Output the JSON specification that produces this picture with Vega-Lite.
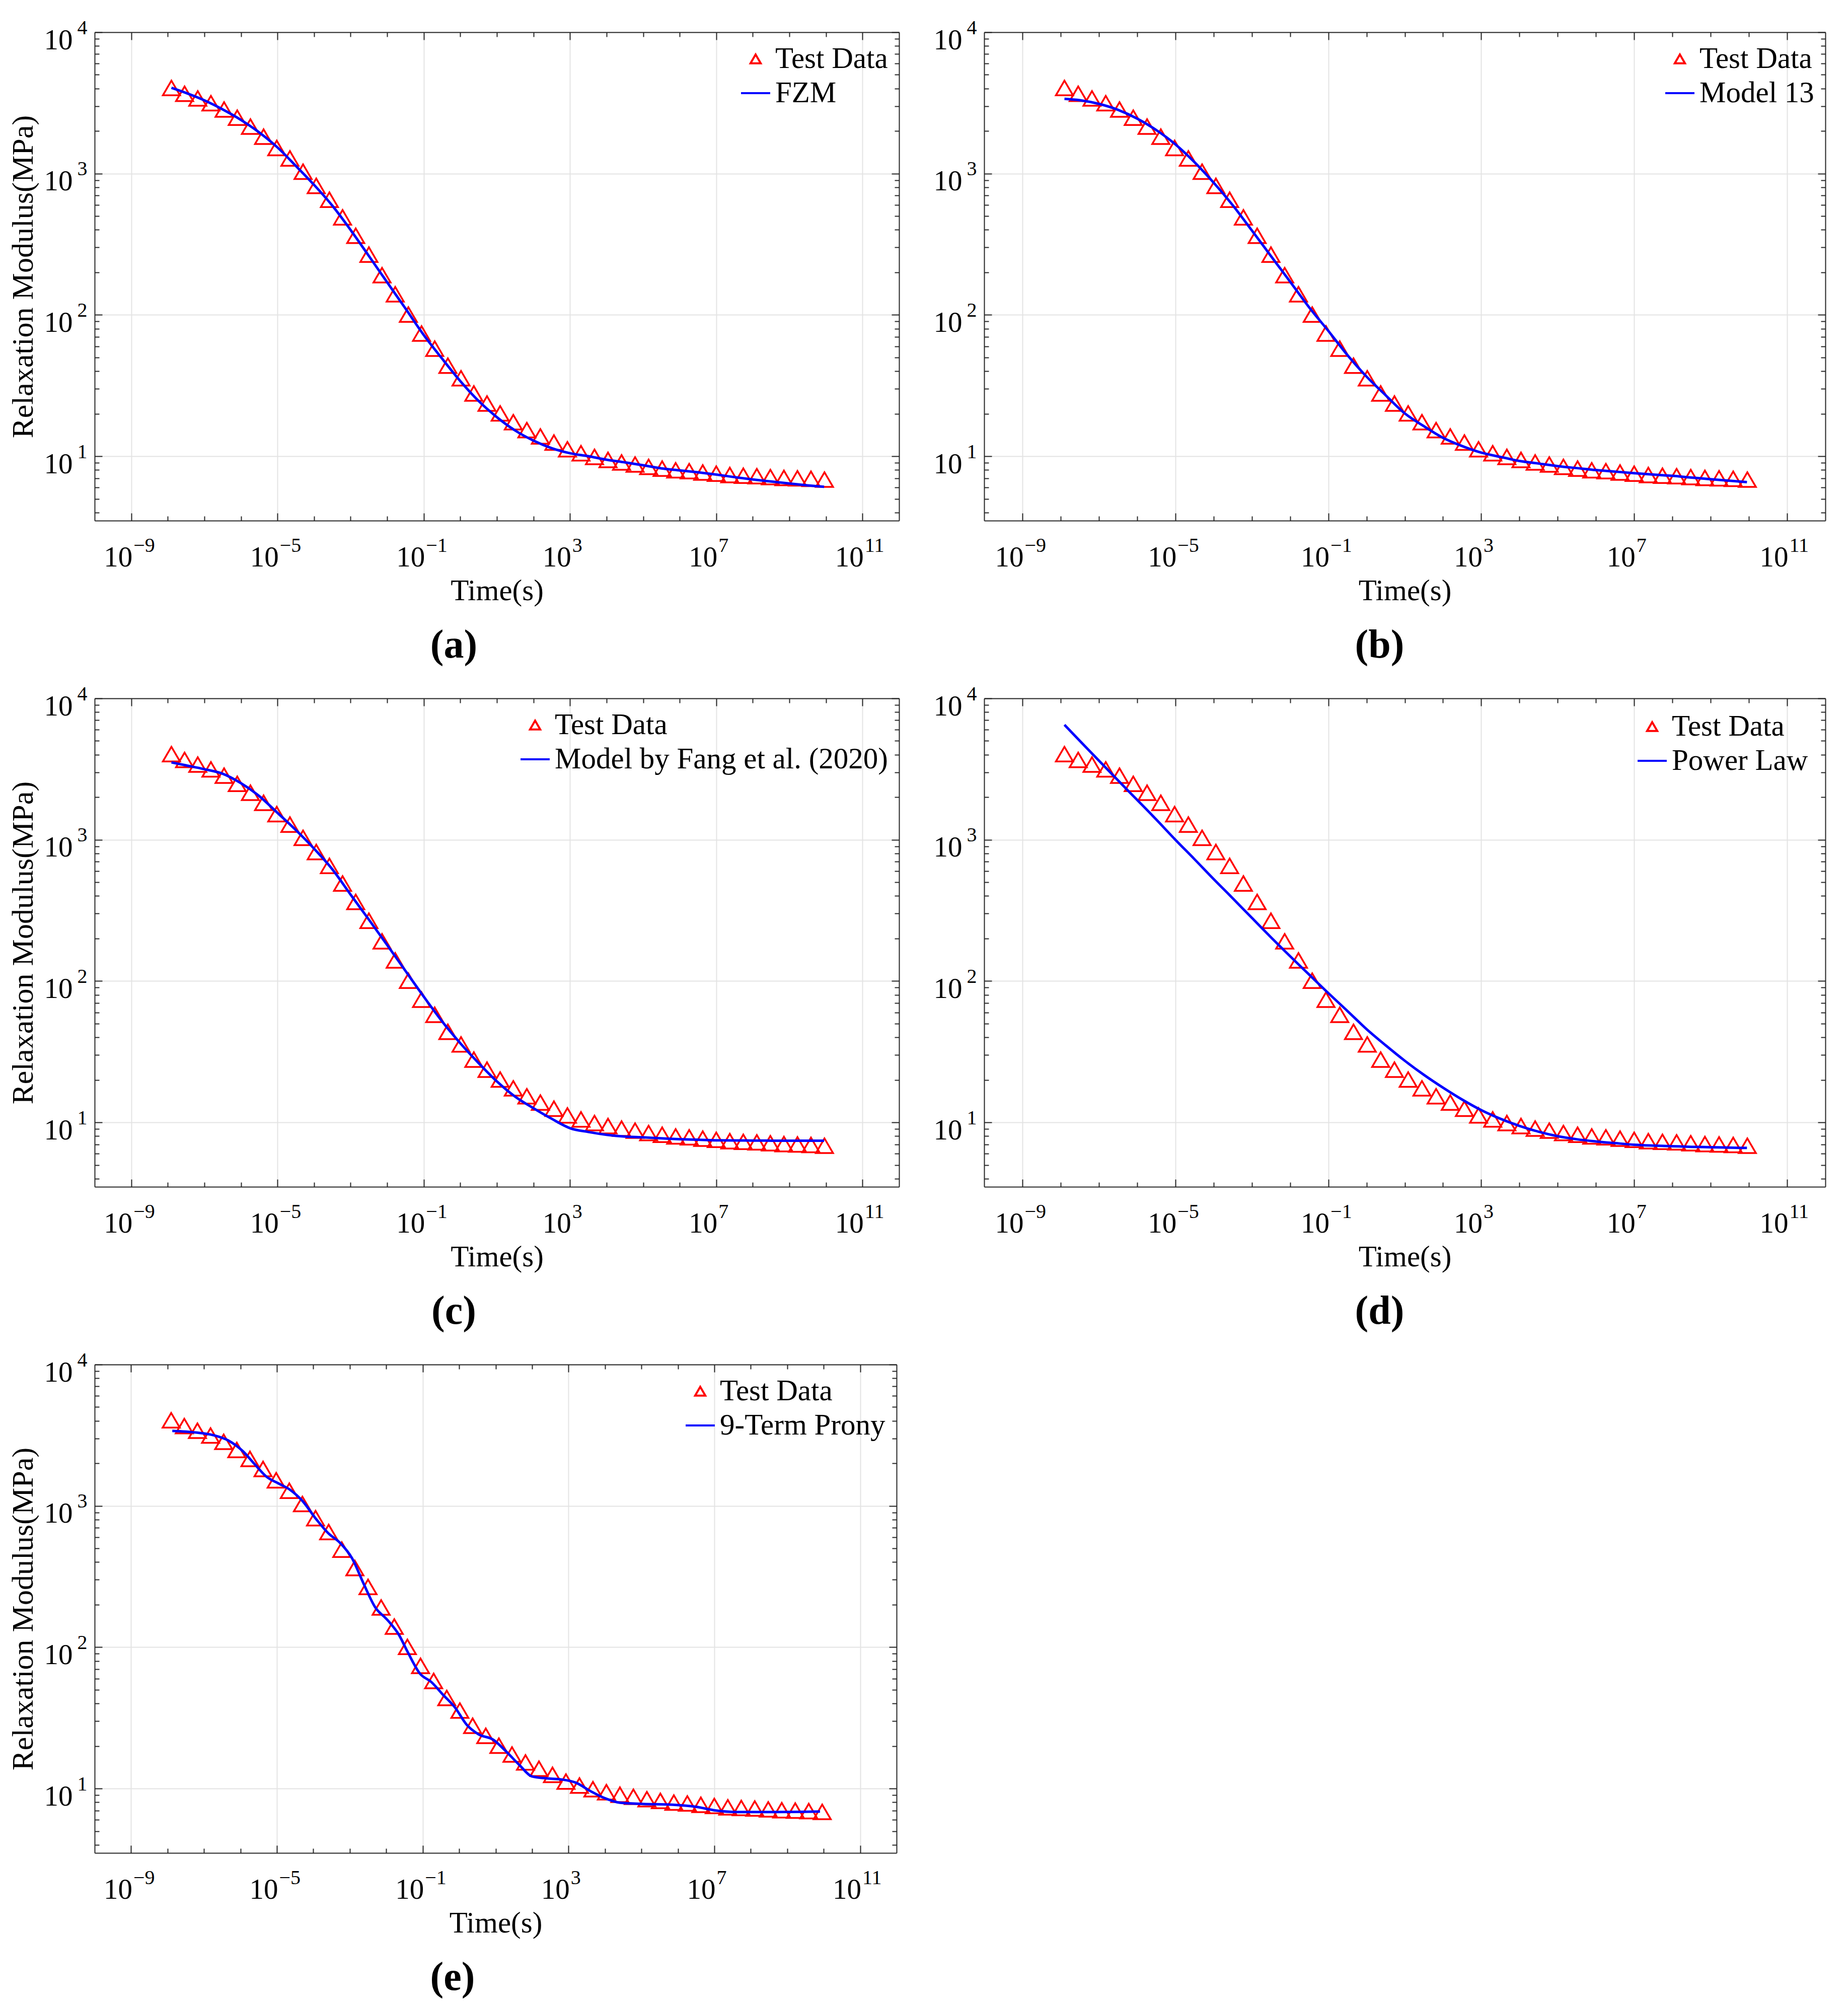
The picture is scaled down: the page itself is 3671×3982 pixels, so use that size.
{
  "$schema": "https://vega.github.io/schema/vega-lite/v6.json",
  "background": "white",
  "padding": {"left": 16, "top": 35, "right": 10, "bottom": 10},
  "datasets": {
    "test": [
      {"t": 1.259e-8, "G": 4030}, {"t": 2.884e-8, "G": 3670}, {"t": 6.607e-8, "G": 3400}, {"t": 1.514e-7, "G": 3145},
      {"t": 3.467e-7, "G": 2840}, {"t": 7.943e-7, "G": 2485}, {"t": 1.82e-6, "G": 2150}, {"t": 4.169e-6, "G": 1825},
      {"t": 9.55e-6, "G": 1517}, {"t": 2.188e-5, "G": 1280}, {"t": 5.012e-5, "G": 1031}, {"t": 1.148e-4, "G": 818},
      {"t": 2.63e-4, "G": 653}, {"t": 6.026e-4, "G": 490}, {"t": 1.38e-3, "G": 363}, {"t": 3.162e-3, "G": 267},
      {"t": 7.244e-3, "G": 191}, {"t": 0.0166, "G": 140}, {"t": 0.03802, "G": 100.5}, {"t": 0.0871, "G": 73.8},
      {"t": 0.1995, "G": 57.7}, {"t": 0.4571, "G": 43.7}, {"t": 1.047, "G": 35.6}, {"t": 2.344, "G": 27.8},
      {"t": 5.37, "G": 23.6}, {"t": 12.3, "G": 20.1}, {"t": 28.18, "G": 17.4}, {"t": 66.07, "G": 15.3},
      {"t": 154.9, "G": 13.8}, {"t": 363.1, "G": 12.5}, {"t": 851.1, "G": 11.2}, {"t": 1995, "G": 10.5},
      {"t": 4677, "G": 9.89}, {"t": 10965, "G": 9.42}, {"t": 25700, "G": 9.04}, {"t": 60260, "G": 8.74},
      {"t": 141250, "G": 8.4}, {"t": 331100, "G": 8.17}, {"t": 776200, "G": 7.95}, {"t": 1820000, "G": 7.84},
      {"t": 4266000, "G": 7.67}, {"t": 10000000, "G": 7.52}, {"t": 23440000, "G": 7.36}, {"t": 54950000, "G": 7.28},
      {"t": 128800000, "G": 7.22}, {"t": 302000000, "G": 7.12}, {"t": 707900000, "G": 7.02}, {"t": 1660000000, "G": 6.98},
      {"t": 3890000000, "G": 6.92}, {"t": 9120000000, "G": 6.83}
    ],
    "models": [
      {"m": "FZM", "t": 1.259e-8, "G": 4040}, {"m": "FZM", "t": 3.162e-8, "G": 3715}, {"m": "FZM", "t": 1e-7, "G": 3296},
      {"m": "FZM", "t": 3.162e-7, "G": 2845}, {"m": "FZM", "t": 1e-6, "G": 2399}, {"m": "FZM", "t": 3.162e-6, "G": 1955},
      {"m": "FZM", "t": 1e-5, "G": 1531}, {"m": "FZM", "t": 3.162e-5, "G": 1135}, {"m": "FZM", "t": 1e-4, "G": 832},
      {"m": "FZM", "t": 3.162e-4, "G": 593}, {"m": "FZM", "t": 1e-3, "G": 399}, {"m": "FZM", "t": 3.162e-3, "G": 261},
      {"m": "FZM", "t": 0.01, "G": 170}, {"m": "FZM", "t": 0.03162, "G": 111}, {"m": "FZM", "t": 0.1, "G": 72.1},
      {"m": "FZM", "t": 0.3162, "G": 49.1}, {"m": "FZM", "t": 1, "G": 34.0}, {"m": "FZM", "t": 3.162, "G": 24.6},
      {"m": "FZM", "t": 10, "G": 18.9}, {"m": "FZM", "t": 31.62, "G": 15.2}, {"m": "FZM", "t": 100, "G": 12.9},
      {"m": "FZM", "t": 316.2, "G": 11.4}, {"m": "FZM", "t": 1000, "G": 10.5}, {"m": "FZM", "t": 3162, "G": 10.0},
      {"m": "FZM", "t": 10000, "G": 9.44}, {"m": "FZM", "t": 31620, "G": 9.04}, {"m": "FZM", "t": 100000, "G": 8.63},
      {"m": "FZM", "t": 316200, "G": 8.2}, {"m": "FZM", "t": 1000000, "G": 7.94}, {"m": "FZM", "t": 3162000, "G": 7.69},
      {"m": "FZM", "t": 10000000, "G": 7.41}, {"m": "FZM", "t": 31620000, "G": 7.11}, {"m": "FZM", "t": 100000000, "G": 6.85},
      {"m": "FZM", "t": 316200000, "G": 6.62}, {"m": "FZM", "t": 1000000000, "G": 6.41}, {"m": "FZM", "t": 3162000000, "G": 6.22},
      {"m": "FZM", "t": 8913000000, "G": 6.07},

      {"m": "Model 13", "t": 1.259e-8, "G": 3381}, {"m": "Model 13", "t": 3.162e-8, "G": 3304}, {"m": "Model 13", "t": 1e-7, "G": 3112},
      {"m": "Model 13", "t": 3.162e-7, "G": 2825}, {"m": "Model 13", "t": 1e-6, "G": 2449}, {"m": "Model 13", "t": 3.162e-6, "G": 2032},
      {"m": "Model 13", "t": 1e-5, "G": 1611}, {"m": "Model 13", "t": 3.162e-5, "G": 1205}, {"m": "Model 13", "t": 1e-4, "G": 863},
      {"m": "Model 13", "t": 3.162e-4, "G": 597}, {"m": "Model 13", "t": 1e-3, "G": 396}, {"m": "Model 13", "t": 3.162e-3, "G": 261},
      {"m": "Model 13", "t": 0.01, "G": 172}, {"m": "Model 13", "t": 0.03162, "G": 113}, {"m": "Model 13", "t": 0.1, "G": 77.1},
      {"m": "Model 13", "t": 0.3162, "G": 52.0}, {"m": "Model 13", "t": 1, "G": 36.6}, {"m": "Model 13", "t": 3.162, "G": 27.0},
      {"m": "Model 13", "t": 10, "G": 20.1}, {"m": "Model 13", "t": 31.62, "G": 16.3}, {"m": "Model 13", "t": 100, "G": 13.5},
      {"m": "Model 13", "t": 316.2, "G": 11.8}, {"m": "Model 13", "t": 1000, "G": 10.6}, {"m": "Model 13", "t": 3162, "G": 9.89},
      {"m": "Model 13", "t": 10000, "G": 9.25}, {"m": "Model 13", "t": 31620, "G": 8.87}, {"m": "Model 13", "t": 100000, "G": 8.51},
      {"m": "Model 13", "t": 316200, "G": 8.24}, {"m": "Model 13", "t": 1000000, "G": 7.98}, {"m": "Model 13", "t": 3162000, "G": 7.78},
      {"m": "Model 13", "t": 10000000, "G": 7.59}, {"m": "Model 13", "t": 31620000, "G": 7.41}, {"m": "Model 13", "t": 100000000, "G": 7.26},
      {"m": "Model 13", "t": 316200000, "G": 7.06}, {"m": "Model 13", "t": 1000000000, "G": 6.87}, {"m": "Model 13", "t": 3162000000, "G": 6.7},
      {"m": "Model 13", "t": 8913000000, "G": 6.56},

      {"m": "Fang", "t": 1.259e-8, "G": 3524}, {"m": "Fang", "t": 3.162e-8, "G": 3357}, {"m": "Fang", "t": 1e-7, "G": 3155},
      {"m": "Fang", "t": 3.162e-7, "G": 2931}, {"m": "Fang", "t": 1e-6, "G": 2512}, {"m": "Fang", "t": 3.162e-6, "G": 2037},
      {"m": "Fang", "t": 1e-5, "G": 1549}, {"m": "Fang", "t": 3.162e-5, "G": 1172}, {"m": "Fang", "t": 1e-4, "G": 865},
      {"m": "Fang", "t": 3.162e-4, "G": 618}, {"m": "Fang", "t": 1e-3, "G": 409}, {"m": "Fang", "t": 3.162e-3, "G": 272},
      {"m": "Fang", "t": 0.01, "G": 180}, {"m": "Fang", "t": 0.03162, "G": 118}, {"m": "Fang", "t": 0.1, "G": 77.6},
      {"m": "Fang", "t": 0.3162, "G": 51.9}, {"m": "Fang", "t": 1, "G": 36.3}, {"m": "Fang", "t": 3.162, "G": 26.3},
      {"m": "Fang", "t": 10, "G": 19.5}, {"m": "Fang", "t": 31.62, "G": 15.2}, {"m": "Fang", "t": 100, "G": 12.6},
      {"m": "Fang", "t": 316.2, "G": 10.6}, {"m": "Fang", "t": 1000, "G": 9.1}, {"m": "Fang", "t": 3162, "G": 8.55},
      {"m": "Fang", "t": 10000, "G": 8.17}, {"m": "Fang", "t": 31620, "G": 7.94}, {"m": "Fang", "t": 100000, "G": 7.83},
      {"m": "Fang", "t": 316200, "G": 7.71}, {"m": "Fang", "t": 1000000, "G": 7.6}, {"m": "Fang", "t": 3162000, "G": 7.53},
      {"m": "Fang", "t": 10000000, "G": 7.46}, {"m": "Fang", "t": 31620000, "G": 7.45}, {"m": "Fang", "t": 100000000, "G": 7.43},
      {"m": "Fang", "t": 316200000, "G": 7.42}, {"m": "Fang", "t": 1000000000, "G": 7.41}, {"m": "Fang", "t": 3162000000, "G": 7.41},
      {"m": "Fang", "t": 8913000000, "G": 7.41},

      {"m": "Power", "t": 1.259e-8, "G": 6501}, {"m": "Power", "t": 3.162e-8, "G": 5012}, {"m": "Power", "t": 1e-7, "G": 3631},
      {"m": "Power", "t": 3.162e-7, "G": 2630}, {"m": "Power", "t": 1e-6, "G": 1914}, {"m": "Power", "t": 3.162e-6, "G": 1390},
      {"m": "Power", "t": 1e-5, "G": 1000}, {"m": "Power", "t": 3.162e-5, "G": 728}, {"m": "Power", "t": 1e-4, "G": 527},
      {"m": "Power", "t": 3.162e-4, "G": 385}, {"m": "Power", "t": 1e-3, "G": 280}, {"m": "Power", "t": 3.162e-3, "G": 204},
      {"m": "Power", "t": 0.01, "G": 150}, {"m": "Power", "t": 0.03162, "G": 111}, {"m": "Power", "t": 0.1, "G": 82.2},
      {"m": "Power", "t": 0.3162, "G": 61.4}, {"m": "Power", "t": 1, "G": 45.7}, {"m": "Power", "t": 3.162, "G": 35.1},
      {"m": "Power", "t": 10, "G": 27.3}, {"m": "Power", "t": 31.62, "G": 21.7}, {"m": "Power", "t": 100, "G": 17.6},
      {"m": "Power", "t": 316.2, "G": 14.5}, {"m": "Power", "t": 1000, "G": 12.2}, {"m": "Power", "t": 3162, "G": 10.6},
      {"m": "Power", "t": 10000, "G": 9.44}, {"m": "Power", "t": 31620, "G": 8.59}, {"m": "Power", "t": 100000, "G": 7.98},
      {"m": "Power", "t": 316200, "G": 7.59}, {"m": "Power", "t": 1000000, "G": 7.33}, {"m": "Power", "t": 3162000, "G": 7.13},
      {"m": "Power", "t": 10000000, "G": 6.95}, {"m": "Power", "t": 31620000, "G": 6.85}, {"m": "Power", "t": 100000000, "G": 6.78},
      {"m": "Power", "t": 316200000, "G": 6.71}, {"m": "Power", "t": 1000000000, "G": 6.67}, {"m": "Power", "t": 3162000000, "G": 6.62},
      {"m": "Power", "t": 8913000000, "G": 6.59},

      {"m": "Prony", "t": 1.349e-8, "G": 3396}, {"m": "Prony", "t": 6.026e-8, "G": 3304}, {"m": "Prony", "t": 1.82e-7, "G": 3162},
      {"m": "Prony", "t": 4.677e-7, "G": 2897}, {"m": "Prony", "t": 1.175e-6, "G": 2432}, {"m": "Prony", "t": 2.455e-6, "G": 1972},
      {"m": "Prony", "t": 5.248e-6, "G": 1603}, {"m": "Prony", "t": 1.096e-5, "G": 1442}, {"m": "Prony", "t": 2.291e-5, "G": 1300},
      {"m": "Prony", "t": 4.898e-5, "G": 1091}, {"m": "Prony", "t": 1.23e-4, "G": 798}, {"m": "Prony", "t": 2.57e-4, "G": 640},
      {"m": "Prony", "t": 5.495e-4, "G": 545}, {"m": "Prony", "t": 1.148e-3, "G": 427}, {"m": "Prony", "t": 2.399e-3, "G": 281},
      {"m": "Prony", "t": 5.012e-3, "G": 191}, {"m": "Prony", "t": 0.01072, "G": 156}, {"m": "Prony", "t": 0.02239, "G": 122},
      {"m": "Prony", "t": 0.0389, "G": 92.3}, {"m": "Prony", "t": 0.08318, "G": 65.2}, {"m": "Prony", "t": 0.1738, "G": 56.6},
      {"m": "Prony", "t": 0.3631, "G": 46.0}, {"m": "Prony", "t": 0.7762, "G": 37.3}, {"m": "Prony", "t": 1.622, "G": 28.2},
      {"m": "Prony", "t": 3.388, "G": 24.2}, {"m": "Prony", "t": 8.71, "G": 22.1}, {"m": "Prony", "t": 18.2, "G": 18.6},
      {"m": "Prony", "t": 45.71, "G": 14.6}, {"m": "Prony", "t": 97.72, "G": 12.2}, {"m": "Prony", "t": 245.5, "G": 11.8},
      {"m": "Prony", "t": 616.6, "G": 11.6}, {"m": "Prony", "t": 1585, "G": 11.0}, {"m": "Prony", "t": 3981, "G": 9.59},
      {"m": "Prony", "t": 10000, "G": 8.53}, {"m": "Prony", "t": 25700, "G": 7.94}, {"m": "Prony", "t": 112200, "G": 7.78},
      {"m": "Prony", "t": 724400, "G": 7.67}, {"m": "Prony", "t": 3236000, "G": 7.41}, {"m": "Prony", "t": 9772000, "G": 7.02},
      {"m": "Prony", "t": 43650000, "G": 6.82}, {"m": "Prony", "t": 407400000, "G": 6.82}, {"m": "Prony", "t": 7943000000, "G": 6.87}
    ]
  },
  "vconcat": [
    {
      "hconcat": [
        {
          "width": 1598, "height": 970, "title": "(a)",
          "layer": [
            {
              "data": {"name": "test"},
              "mark": {"type": "point", "filled": false, "size": 9435, "strokeWidth": 3.5, "opacity": 1},
              "encoding": {
                "x": {"field": "t", "type": "quantitative", "scale": {"type": "log", "domain": [1e-10, 1e12], "nice": false},
                  "axis": {"orient": "bottom", "values": [1e-9,1e-8,1e-7,1e-6,1e-5,0.0001,0.001,0.01,0.1,1,10,100,1000,10000,100000,1000000,10000000,100000000,1000000000,10000000000,100000000000],
                    "labelExpr": "indexof([-9,-5,-1,3,7,11], round(log(datum.value)/LN10)) < 0 ? '' : '10'",
                    "labelAlign": "right", "labelBaseline": "alphabetic", "labelOffset": 2, "labelPadding": 105,
                    "tickSize": {"condition": {"test": "indexof([-9,-5,-1,3,7,11], round(log(datum.value)/LN10)) >= 0", "value": -15}, "value": -9},
                    "grid": true, "gridOpacity": {"condition": {"test": "indexof([-9,-5,-1,3,7,11], round(log(datum.value)/LN10)) >= 0", "value": 1}, "value": 0},
                    "title": "Time(s)", "titlePadding": 3}},
                "y": {"field": "G", "type": "quantitative", "scale": {"type": "log", "domain": [3.5, 10000], "nice": false},
                  "axis": {"orient": "left", "values": [4,5,6,7,8,9,10,20,30,40,50,60,70,80,90,100,200,300,400,500,600,700,800,900,1000,2000,3000,4000,5000,6000,7000,8000,9000,10000],
                    "labelExpr": "datum.value == 10 || datum.value == 100 || datum.value == 1000 || datum.value == 10000 ? '10' : ''",
                    "labelAlign": "right", "labelBaseline": "alphabetic", "labelOffset": 33, "labelPadding": 59,
                    "tickSize": {"condition": {"test": "datum.value == 10 || datum.value == 100 || datum.value == 1000 || datum.value == 10000", "value": -15}, "value": -9},
                    "grid": true, "gridOpacity": {"condition": {"test": "datum.value == 10 || datum.value == 100 || datum.value == 1000 || datum.value == 10000", "value": 1}, "value": 0},
                    "title": "Relaxation Modulus(MPa)", "titlePadding": 10, "titleFontSize": 60}},
                "color": {"datum": "Test Data", "scale": {"domain": ["Test Data", "FZM"], "range": ["#ff0000", "#0000ff"]},
                  "legend": {"title": null, "orient": "top-right", "offset": 22, "padding": 0, "symbolSize": 3364, "symbolStrokeWidth": 4, "labelFontSize": 59, "labelFont": "Liberation Serif", "labelColor": "#000", "labelLimit": 2000, "labelOffset": 8, "rowPadding": 7}},
                "shape": {"datum": "Test Data", "scale": {"domain": ["Test Data", "FZM"], "range": ["M0,-0.3L-0.35,0.3L0.35,0.3Z", "M-1,0L1,0"]},
                  "legend": {"title": null, "orient": "top-right", "offset": 22, "padding": 0, "symbolSize": 3364, "symbolStrokeWidth": 4, "labelFontSize": 59, "labelFont": "Liberation Serif", "labelColor": "#000", "labelLimit": 2000, "labelOffset": 8, "rowPadding": 7}}
              }
            },
            {
              "data": {"name": "models"},
              "transform": [{"filter": "datum.m == 'FZM'"}],
              "mark": {"type": "line", "color": "#0000ff", "strokeWidth": 5, "interpolate": "monotone"},
              "encoding": {
                "x": {"field": "t", "type": "quantitative", "scale": {"type": "log", "domain": [1e-10, 1e12], "nice": false},
                  "axis": {"orient": "top", "values": [1e-9,1e-8,1e-7,1e-6,1e-5,0.0001,0.001,0.01,0.1,1,10,100,1000,10000,100000,1000000,10000000,100000000,1000000000,10000000000,100000000000],
                    "labelExpr": "indexof([-9,-5,-1,3,7,11], round(log(datum.value)/LN10)) < 0 ? '' : ['−9','−5','−1','3','7','11'][indexof([-9,-5,-1,3,7,11], round(log(datum.value)/LN10))]",
                    "labelAlign": "left", "labelBaseline": "alphabetic", "labelOffset": 4, "labelPadding": -1016, "labelFontSize": 40,
                    "grid": false, "title": null,
                    "tickSize": {"condition": {"test": "indexof([-9,-5,-1,3,7,11], round(log(datum.value)/LN10)) >= 0", "value": -15}, "value": -9}}},
                "y": {"field": "G", "type": "quantitative", "scale": {"type": "log", "domain": [3.5, 10000], "nice": false},
                  "axis": {"orient": "right", "values": [4,5,6,7,8,9,10,20,30,40,50,60,70,80,90,100,200,300,400,500,600,700,800,900,1000,2000,3000,4000,5000,6000,7000,8000,9000,10000],
                    "labelExpr": "datum.value == 10 ? '1' : datum.value == 100 ? '2' : datum.value == 1000 ? '3' : datum.value == 10000 ? '4' : ''",
                    "labelAlign": "left", "labelBaseline": "alphabetic", "labelOffset": 3, "labelPadding": -1618, "labelFontSize": 40,
                    "grid": false, "title": null,
                    "tickSize": {"condition": {"test": "datum.value == 10 || datum.value == 100 || datum.value == 1000 || datum.value == 10000", "value": -15}, "value": -9}}}
              }
            }
          ],
          "resolve": {"axis": {"x": "independent", "y": "independent"}}
        },
        {
          "width": 1671, "height": 970, "title": "(b)",
          "layer": [
            {
              "data": {"name": "test"},
              "mark": {"type": "point", "filled": false, "size": 9435, "strokeWidth": 3.5, "opacity": 1},
              "encoding": {
                "x": {"field": "t", "type": "quantitative", "scale": {"type": "log", "domain": [1e-10, 1e12], "nice": false},
                  "axis": {"orient": "bottom", "values": [1e-9,1e-8,1e-7,1e-6,1e-5,0.0001,0.001,0.01,0.1,1,10,100,1000,10000,100000,1000000,10000000,100000000,1000000000,10000000000,100000000000],
                    "labelExpr": "indexof([-9,-5,-1,3,7,11], round(log(datum.value)/LN10)) < 0 ? '' : '10'",
                    "labelAlign": "right", "labelBaseline": "alphabetic", "labelOffset": 2, "labelPadding": 105,
                    "tickSize": {"condition": {"test": "indexof([-9,-5,-1,3,7,11], round(log(datum.value)/LN10)) >= 0", "value": -15}, "value": -9},
                    "grid": true, "gridOpacity": {"condition": {"test": "indexof([-9,-5,-1,3,7,11], round(log(datum.value)/LN10)) >= 0", "value": 1}, "value": 0},
                    "title": "Time(s)", "titlePadding": 3}},
                "y": {"field": "G", "type": "quantitative", "scale": {"type": "log", "domain": [3.5, 10000], "nice": false},
                  "axis": {"orient": "left", "values": [4,5,6,7,8,9,10,20,30,40,50,60,70,80,90,100,200,300,400,500,600,700,800,900,1000,2000,3000,4000,5000,6000,7000,8000,9000,10000],
                    "labelExpr": "datum.value == 10 || datum.value == 100 || datum.value == 1000 || datum.value == 10000 ? '10' : ''",
                    "labelAlign": "right", "labelBaseline": "alphabetic", "labelOffset": 33, "labelPadding": 59,
                    "tickSize": {"condition": {"test": "datum.value == 10 || datum.value == 100 || datum.value == 1000 || datum.value == 10000", "value": -15}, "value": -9},
                    "grid": true, "gridOpacity": {"condition": {"test": "datum.value == 10 || datum.value == 100 || datum.value == 1000 || datum.value == 10000", "value": 1}, "value": 0},
                    "title": null}},
                "color": {"datum": "Test Data", "scale": {"domain": ["Test Data", "Model 13"], "range": ["#ff0000", "#0000ff"]},
                  "legend": {"title": null, "orient": "top-right", "offset": 22, "padding": 0, "symbolSize": 3364, "symbolStrokeWidth": 4, "labelFontSize": 59, "labelFont": "Liberation Serif", "labelColor": "#000", "labelLimit": 2000, "labelOffset": 8, "rowPadding": 7}},
                "shape": {"datum": "Test Data", "scale": {"domain": ["Test Data", "Model 13"], "range": ["M0,-0.3L-0.35,0.3L0.35,0.3Z", "M-1,0L1,0"]},
                  "legend": {"title": null, "orient": "top-right", "offset": 22, "padding": 0, "symbolSize": 3364, "symbolStrokeWidth": 4, "labelFontSize": 59, "labelFont": "Liberation Serif", "labelColor": "#000", "labelLimit": 2000, "labelOffset": 8, "rowPadding": 7}}
              }
            },
            {
              "data": {"name": "models"},
              "transform": [{"filter": "datum.m == 'Model 13'"}],
              "mark": {"type": "line", "color": "#0000ff", "strokeWidth": 5, "interpolate": "monotone"},
              "encoding": {
                "x": {"field": "t", "type": "quantitative", "scale": {"type": "log", "domain": [1e-10, 1e12], "nice": false},
                  "axis": {"orient": "top", "values": [1e-9,1e-8,1e-7,1e-6,1e-5,0.0001,0.001,0.01,0.1,1,10,100,1000,10000,100000,1000000,10000000,100000000,1000000000,10000000000,100000000000],
                    "labelExpr": "indexof([-9,-5,-1,3,7,11], round(log(datum.value)/LN10)) < 0 ? '' : ['−9','−5','−1','3','7','11'][indexof([-9,-5,-1,3,7,11], round(log(datum.value)/LN10))]",
                    "labelAlign": "left", "labelBaseline": "alphabetic", "labelOffset": 4, "labelPadding": -1016, "labelFontSize": 40,
                    "grid": false, "title": null,
                    "tickSize": {"condition": {"test": "indexof([-9,-5,-1,3,7,11], round(log(datum.value)/LN10)) >= 0", "value": -15}, "value": -9}}},
                "y": {"field": "G", "type": "quantitative", "scale": {"type": "log", "domain": [3.5, 10000], "nice": false},
                  "axis": {"orient": "right", "values": [4,5,6,7,8,9,10,20,30,40,50,60,70,80,90,100,200,300,400,500,600,700,800,900,1000,2000,3000,4000,5000,6000,7000,8000,9000,10000],
                    "labelExpr": "datum.value == 10 ? '1' : datum.value == 100 ? '2' : datum.value == 1000 ? '3' : datum.value == 10000 ? '4' : ''",
                    "labelAlign": "left", "labelBaseline": "alphabetic", "labelOffset": 3, "labelPadding": -1691, "labelFontSize": 40,
                    "grid": false, "title": null,
                    "tickSize": {"condition": {"test": "datum.value == 10 || datum.value == 100 || datum.value == 1000 || datum.value == 10000", "value": -15}, "value": -9}}}
              }
            }
          ],
          "resolve": {"axis": {"x": "independent", "y": "independent"}}
        }
      ],
      "spacing": 67,
      "resolve": {"scale": {"x": "independent", "y": "independent", "color": "independent", "shape": "independent"}, "legend": {"color": "independent", "shape": "independent"}}
    },
    {
      "hconcat": [
        {
          "width": 1598, "height": 970, "title": "(c)",
          "layer": [
            {
              "data": {"name": "test"},
              "mark": {"type": "point", "filled": false, "size": 9435, "strokeWidth": 3.5, "opacity": 1},
              "encoding": {
                "x": {"field": "t", "type": "quantitative", "scale": {"type": "log", "domain": [1e-10, 1e12], "nice": false},
                  "axis": {"orient": "bottom", "values": [1e-9,1e-8,1e-7,1e-6,1e-5,0.0001,0.001,0.01,0.1,1,10,100,1000,10000,100000,1000000,10000000,100000000,1000000000,10000000000,100000000000],
                    "labelExpr": "indexof([-9,-5,-1,3,7,11], round(log(datum.value)/LN10)) < 0 ? '' : '10'",
                    "labelAlign": "right", "labelBaseline": "alphabetic", "labelOffset": 2, "labelPadding": 105,
                    "tickSize": {"condition": {"test": "indexof([-9,-5,-1,3,7,11], round(log(datum.value)/LN10)) >= 0", "value": -15}, "value": -9},
                    "grid": true, "gridOpacity": {"condition": {"test": "indexof([-9,-5,-1,3,7,11], round(log(datum.value)/LN10)) >= 0", "value": 1}, "value": 0},
                    "title": "Time(s)", "titlePadding": 3}},
                "y": {"field": "G", "type": "quantitative", "scale": {"type": "log", "domain": [3.5, 10000], "nice": false},
                  "axis": {"orient": "left", "values": [4,5,6,7,8,9,10,20,30,40,50,60,70,80,90,100,200,300,400,500,600,700,800,900,1000,2000,3000,4000,5000,6000,7000,8000,9000,10000],
                    "labelExpr": "datum.value == 10 || datum.value == 100 || datum.value == 1000 || datum.value == 10000 ? '10' : ''",
                    "labelAlign": "right", "labelBaseline": "alphabetic", "labelOffset": 33, "labelPadding": 59,
                    "tickSize": {"condition": {"test": "datum.value == 10 || datum.value == 100 || datum.value == 1000 || datum.value == 10000", "value": -15}, "value": -9},
                    "grid": true, "gridOpacity": {"condition": {"test": "datum.value == 10 || datum.value == 100 || datum.value == 1000 || datum.value == 10000", "value": 1}, "value": 0},
                    "title": "Relaxation Modulus(MPa)", "titlePadding": 10, "titleFontSize": 60}},
                "color": {"datum": "Test Data", "scale": {"domain": ["Test Data", "Model by Fang et al. (2020)"], "range": ["#ff0000", "#0000ff"]},
                  "legend": {"title": null, "orient": "top-right", "offset": 22, "padding": 0, "symbolSize": 3364, "symbolStrokeWidth": 4, "labelFontSize": 59, "labelFont": "Liberation Serif", "labelColor": "#000", "labelLimit": 2000, "labelOffset": 8, "rowPadding": 7}},
                "shape": {"datum": "Test Data", "scale": {"domain": ["Test Data", "Model by Fang et al. (2020)"], "range": ["M0,-0.3L-0.35,0.3L0.35,0.3Z", "M-1,0L1,0"]},
                  "legend": {"title": null, "orient": "top-right", "offset": 22, "padding": 0, "symbolSize": 3364, "symbolStrokeWidth": 4, "labelFontSize": 59, "labelFont": "Liberation Serif", "labelColor": "#000", "labelLimit": 2000, "labelOffset": 8, "rowPadding": 7}}
              }
            },
            {
              "data": {"name": "models"},
              "transform": [{"filter": "datum.m == 'Fang'"}],
              "mark": {"type": "line", "color": "#0000ff", "strokeWidth": 5, "interpolate": "monotone"},
              "encoding": {
                "x": {"field": "t", "type": "quantitative", "scale": {"type": "log", "domain": [1e-10, 1e12], "nice": false},
                  "axis": {"orient": "top", "values": [1e-9,1e-8,1e-7,1e-6,1e-5,0.0001,0.001,0.01,0.1,1,10,100,1000,10000,100000,1000000,10000000,100000000,1000000000,10000000000,100000000000],
                    "labelExpr": "indexof([-9,-5,-1,3,7,11], round(log(datum.value)/LN10)) < 0 ? '' : ['−9','−5','−1','3','7','11'][indexof([-9,-5,-1,3,7,11], round(log(datum.value)/LN10))]",
                    "labelAlign": "left", "labelBaseline": "alphabetic", "labelOffset": 4, "labelPadding": -1016, "labelFontSize": 40,
                    "grid": false, "title": null,
                    "tickSize": {"condition": {"test": "indexof([-9,-5,-1,3,7,11], round(log(datum.value)/LN10)) >= 0", "value": -15}, "value": -9}}},
                "y": {"field": "G", "type": "quantitative", "scale": {"type": "log", "domain": [3.5, 10000], "nice": false},
                  "axis": {"orient": "right", "values": [4,5,6,7,8,9,10,20,30,40,50,60,70,80,90,100,200,300,400,500,600,700,800,900,1000,2000,3000,4000,5000,6000,7000,8000,9000,10000],
                    "labelExpr": "datum.value == 10 ? '1' : datum.value == 100 ? '2' : datum.value == 1000 ? '3' : datum.value == 10000 ? '4' : ''",
                    "labelAlign": "left", "labelBaseline": "alphabetic", "labelOffset": 3, "labelPadding": -1618, "labelFontSize": 40,
                    "grid": false, "title": null,
                    "tickSize": {"condition": {"test": "datum.value == 10 || datum.value == 100 || datum.value == 1000 || datum.value == 10000", "value": -15}, "value": -9}}}
              }
            }
          ],
          "resolve": {"axis": {"x": "independent", "y": "independent"}}
        },
        {
          "width": 1671, "height": 970, "title": "(d)",
          "layer": [
            {
              "data": {"name": "test"},
              "mark": {"type": "point", "filled": false, "size": 9435, "strokeWidth": 3.5, "opacity": 1},
              "encoding": {
                "x": {"field": "t", "type": "quantitative", "scale": {"type": "log", "domain": [1e-10, 1e12], "nice": false},
                  "axis": {"orient": "bottom", "values": [1e-9,1e-8,1e-7,1e-6,1e-5,0.0001,0.001,0.01,0.1,1,10,100,1000,10000,100000,1000000,10000000,100000000,1000000000,10000000000,100000000000],
                    "labelExpr": "indexof([-9,-5,-1,3,7,11], round(log(datum.value)/LN10)) < 0 ? '' : '10'",
                    "labelAlign": "right", "labelBaseline": "alphabetic", "labelOffset": 2, "labelPadding": 105,
                    "tickSize": {"condition": {"test": "indexof([-9,-5,-1,3,7,11], round(log(datum.value)/LN10)) >= 0", "value": -15}, "value": -9},
                    "grid": true, "gridOpacity": {"condition": {"test": "indexof([-9,-5,-1,3,7,11], round(log(datum.value)/LN10)) >= 0", "value": 1}, "value": 0},
                    "title": "Time(s)", "titlePadding": 3}},
                "y": {"field": "G", "type": "quantitative", "scale": {"type": "log", "domain": [3.5, 10000], "nice": false},
                  "axis": {"orient": "left", "values": [4,5,6,7,8,9,10,20,30,40,50,60,70,80,90,100,200,300,400,500,600,700,800,900,1000,2000,3000,4000,5000,6000,7000,8000,9000,10000],
                    "labelExpr": "datum.value == 10 || datum.value == 100 || datum.value == 1000 || datum.value == 10000 ? '10' : ''",
                    "labelAlign": "right", "labelBaseline": "alphabetic", "labelOffset": 33, "labelPadding": 59,
                    "tickSize": {"condition": {"test": "datum.value == 10 || datum.value == 100 || datum.value == 1000 || datum.value == 10000", "value": -15}, "value": -9},
                    "grid": true, "gridOpacity": {"condition": {"test": "datum.value == 10 || datum.value == 100 || datum.value == 1000 || datum.value == 10000", "value": 1}, "value": 0},
                    "title": null}},
                "color": {"datum": "Test Data", "scale": {"domain": ["Test Data", "Power Law"], "range": ["#ff0000", "#0000ff"]},
                  "legend": {"title": null, "orient": "none", "legendX": 1296, "legendY": 25, "padding": 0, "symbolSize": 3364, "symbolStrokeWidth": 4, "labelFontSize": 59, "labelFont": "Liberation Serif", "labelColor": "#000", "labelLimit": 2000, "labelOffset": 8, "rowPadding": 7}},
                "shape": {"datum": "Test Data", "scale": {"domain": ["Test Data", "Power Law"], "range": ["M0,-0.3L-0.35,0.3L0.35,0.3Z", "M-1,0L1,0"]},
                  "legend": {"title": null, "orient": "none", "legendX": 1296, "legendY": 25, "padding": 0, "symbolSize": 3364, "symbolStrokeWidth": 4, "labelFontSize": 59, "labelFont": "Liberation Serif", "labelColor": "#000", "labelLimit": 2000, "labelOffset": 8, "rowPadding": 7}}
              }
            },
            {
              "data": {"name": "models"},
              "transform": [{"filter": "datum.m == 'Power'"}],
              "mark": {"type": "line", "color": "#0000ff", "strokeWidth": 5, "interpolate": "monotone"},
              "encoding": {
                "x": {"field": "t", "type": "quantitative", "scale": {"type": "log", "domain": [1e-10, 1e12], "nice": false},
                  "axis": {"orient": "top", "values": [1e-9,1e-8,1e-7,1e-6,1e-5,0.0001,0.001,0.01,0.1,1,10,100,1000,10000,100000,1000000,10000000,100000000,1000000000,10000000000,100000000000],
                    "labelExpr": "indexof([-9,-5,-1,3,7,11], round(log(datum.value)/LN10)) < 0 ? '' : ['−9','−5','−1','3','7','11'][indexof([-9,-5,-1,3,7,11], round(log(datum.value)/LN10))]",
                    "labelAlign": "left", "labelBaseline": "alphabetic", "labelOffset": 4, "labelPadding": -1016, "labelFontSize": 40,
                    "grid": false, "title": null,
                    "tickSize": {"condition": {"test": "indexof([-9,-5,-1,3,7,11], round(log(datum.value)/LN10)) >= 0", "value": -15}, "value": -9}}},
                "y": {"field": "G", "type": "quantitative", "scale": {"type": "log", "domain": [3.5, 10000], "nice": false},
                  "axis": {"orient": "right", "values": [4,5,6,7,8,9,10,20,30,40,50,60,70,80,90,100,200,300,400,500,600,700,800,900,1000,2000,3000,4000,5000,6000,7000,8000,9000,10000],
                    "labelExpr": "datum.value == 10 ? '1' : datum.value == 100 ? '2' : datum.value == 1000 ? '3' : datum.value == 10000 ? '4' : ''",
                    "labelAlign": "left", "labelBaseline": "alphabetic", "labelOffset": 3, "labelPadding": -1691, "labelFontSize": 40,
                    "grid": false, "title": null,
                    "tickSize": {"condition": {"test": "datum.value == 10 || datum.value == 100 || datum.value == 1000 || datum.value == 10000", "value": -15}, "value": -9}}}
              }
            }
          ],
          "resolve": {"axis": {"x": "independent", "y": "independent"}}
        }
      ],
      "spacing": 67,
      "resolve": {"scale": {"x": "independent", "y": "independent", "color": "independent", "shape": "independent"}, "legend": {"color": "independent", "shape": "independent"}}
    },
    {
      "width": 1593, "height": 970, "title": "(e)",
      "layer": [
        {
          "data": {"name": "test"},
          "mark": {"type": "point", "filled": false, "size": 9435, "strokeWidth": 3.5, "opacity": 1},
          "encoding": {
            "x": {"field": "t", "type": "quantitative", "scale": {"type": "log", "domain": [1e-10, 1e12], "nice": false},
              "axis": {"orient": "bottom", "values": [1e-9,1e-8,1e-7,1e-6,1e-5,0.0001,0.001,0.01,0.1,1,10,100,1000,10000,100000,1000000,10000000,100000000,1000000000,10000000000,100000000000],
                "labelExpr": "indexof([-9,-5,-1,3,7,11], round(log(datum.value)/LN10)) < 0 ? '' : '10'",
                "labelAlign": "right", "labelBaseline": "alphabetic", "labelOffset": 2, "labelPadding": 105,
                "tickSize": {"condition": {"test": "indexof([-9,-5,-1,3,7,11], round(log(datum.value)/LN10)) >= 0", "value": -15}, "value": -9},
                "grid": true, "gridOpacity": {"condition": {"test": "indexof([-9,-5,-1,3,7,11], round(log(datum.value)/LN10)) >= 0", "value": 1}, "value": 0},
                "title": "Time(s)", "titlePadding": 3}},
            "y": {"field": "G", "type": "quantitative", "scale": {"type": "log", "domain": [3.5, 10000], "nice": false},
              "axis": {"orient": "left", "values": [4,5,6,7,8,9,10,20,30,40,50,60,70,80,90,100,200,300,400,500,600,700,800,900,1000,2000,3000,4000,5000,6000,7000,8000,9000,10000],
                "labelExpr": "datum.value == 10 || datum.value == 100 || datum.value == 1000 || datum.value == 10000 ? '10' : ''",
                "labelAlign": "right", "labelBaseline": "alphabetic", "labelOffset": 33, "labelPadding": 59,
                "tickSize": {"condition": {"test": "datum.value == 10 || datum.value == 100 || datum.value == 1000 || datum.value == 10000", "value": -15}, "value": -9},
                "grid": true, "gridOpacity": {"condition": {"test": "datum.value == 10 || datum.value == 100 || datum.value == 1000 || datum.value == 10000", "value": 1}, "value": 0},
                "title": "Relaxation Modulus(MPa)", "titlePadding": 10, "titleFontSize": 60}},
            "color": {"datum": "Test Data", "scale": {"domain": ["Test Data", "9-Term Prony"], "range": ["#ff0000", "#0000ff"]},
              "legend": {"title": null, "orient": "top-right", "offset": 22, "padding": 0, "symbolSize": 3364, "symbolStrokeWidth": 4, "labelFontSize": 59, "labelFont": "Liberation Serif", "labelColor": "#000", "labelLimit": 2000, "labelOffset": 8, "rowPadding": 7}},
            "shape": {"datum": "Test Data", "scale": {"domain": ["Test Data", "9-Term Prony"], "range": ["M0,-0.3L-0.35,0.3L0.35,0.3Z", "M-1,0L1,0"]},
              "legend": {"title": null, "orient": "top-right", "offset": 22, "padding": 0, "symbolSize": 3364, "symbolStrokeWidth": 4, "labelFontSize": 59, "labelFont": "Liberation Serif", "labelColor": "#000", "labelLimit": 2000, "labelOffset": 8, "rowPadding": 7}}
          }
        },
        {
          "data": {"name": "models"},
          "transform": [{"filter": "datum.m == 'Prony'"}],
          "mark": {"type": "line", "color": "#0000ff", "strokeWidth": 5, "interpolate": "monotone"},
          "encoding": {
            "x": {"field": "t", "type": "quantitative", "scale": {"type": "log", "domain": [1e-10, 1e12], "nice": false},
              "axis": {"orient": "top", "values": [1e-9,1e-8,1e-7,1e-6,1e-5,0.0001,0.001,0.01,0.1,1,10,100,1000,10000,100000,1000000,10000000,100000000,1000000000,10000000000,100000000000],
                "labelExpr": "indexof([-9,-5,-1,3,7,11], round(log(datum.value)/LN10)) < 0 ? '' : ['−9','−5','−1','3','7','11'][indexof([-9,-5,-1,3,7,11], round(log(datum.value)/LN10))]",
                "labelAlign": "left", "labelBaseline": "alphabetic", "labelOffset": 4, "labelPadding": -1016, "labelFontSize": 40,
                "grid": false, "title": null,
                "tickSize": {"condition": {"test": "indexof([-9,-5,-1,3,7,11], round(log(datum.value)/LN10)) >= 0", "value": -15}, "value": -9}}},
            "y": {"field": "G", "type": "quantitative", "scale": {"type": "log", "domain": [3.5, 10000], "nice": false},
              "axis": {"orient": "right", "values": [4,5,6,7,8,9,10,20,30,40,50,60,70,80,90,100,200,300,400,500,600,700,800,900,1000,2000,3000,4000,5000,6000,7000,8000,9000,10000],
                "labelExpr": "datum.value == 10 ? '1' : datum.value == 100 ? '2' : datum.value == 1000 ? '3' : datum.value == 10000 ? '4' : ''",
                "labelAlign": "left", "labelBaseline": "alphabetic", "labelOffset": 3, "labelPadding": -1613, "labelFontSize": 40,
                "grid": false, "title": null,
                "tickSize": {"condition": {"test": "datum.value == 10 || datum.value == 100 || datum.value == 1000 || datum.value == 10000", "value": -15}, "value": -9}}}
          }
        }
      ],
      "resolve": {"axis": {"x": "independent", "y": "independent"}}
    }
  ],
  "spacing": 36,
  "resolve": {"scale": {"x": "independent", "y": "independent", "color": "independent", "shape": "independent"}, "legend": {"color": "independent", "shape": "independent"}},
  "config": {
    "font": "Liberation Serif",
    "view": {"stroke": null},
    "axis": {
      "labelFont": "Liberation Serif", "labelFontSize": 57, "labelColor": "#000000",
      "titleFont": "Liberation Serif", "titleFontSize": 59, "titleFontWeight": "normal", "titleColor": "#000000",
      "domainColor": "#262626", "domainWidth": 2, "tickColor": "#262626", "tickWidth": 2,
      "gridColor": "#e3e3e3", "gridWidth": 2,
      "labelOverlap": false, "labelFlush": false, "labelBound": false
    },
    "title": {"orient": "bottom", "anchor": "middle", "frame": "bounds", "font": "Liberation Serif", "fontSize": 80, "fontWeight": "bold", "color": "#000000", "offset": 40, "baseline": "top"}
  }
}
